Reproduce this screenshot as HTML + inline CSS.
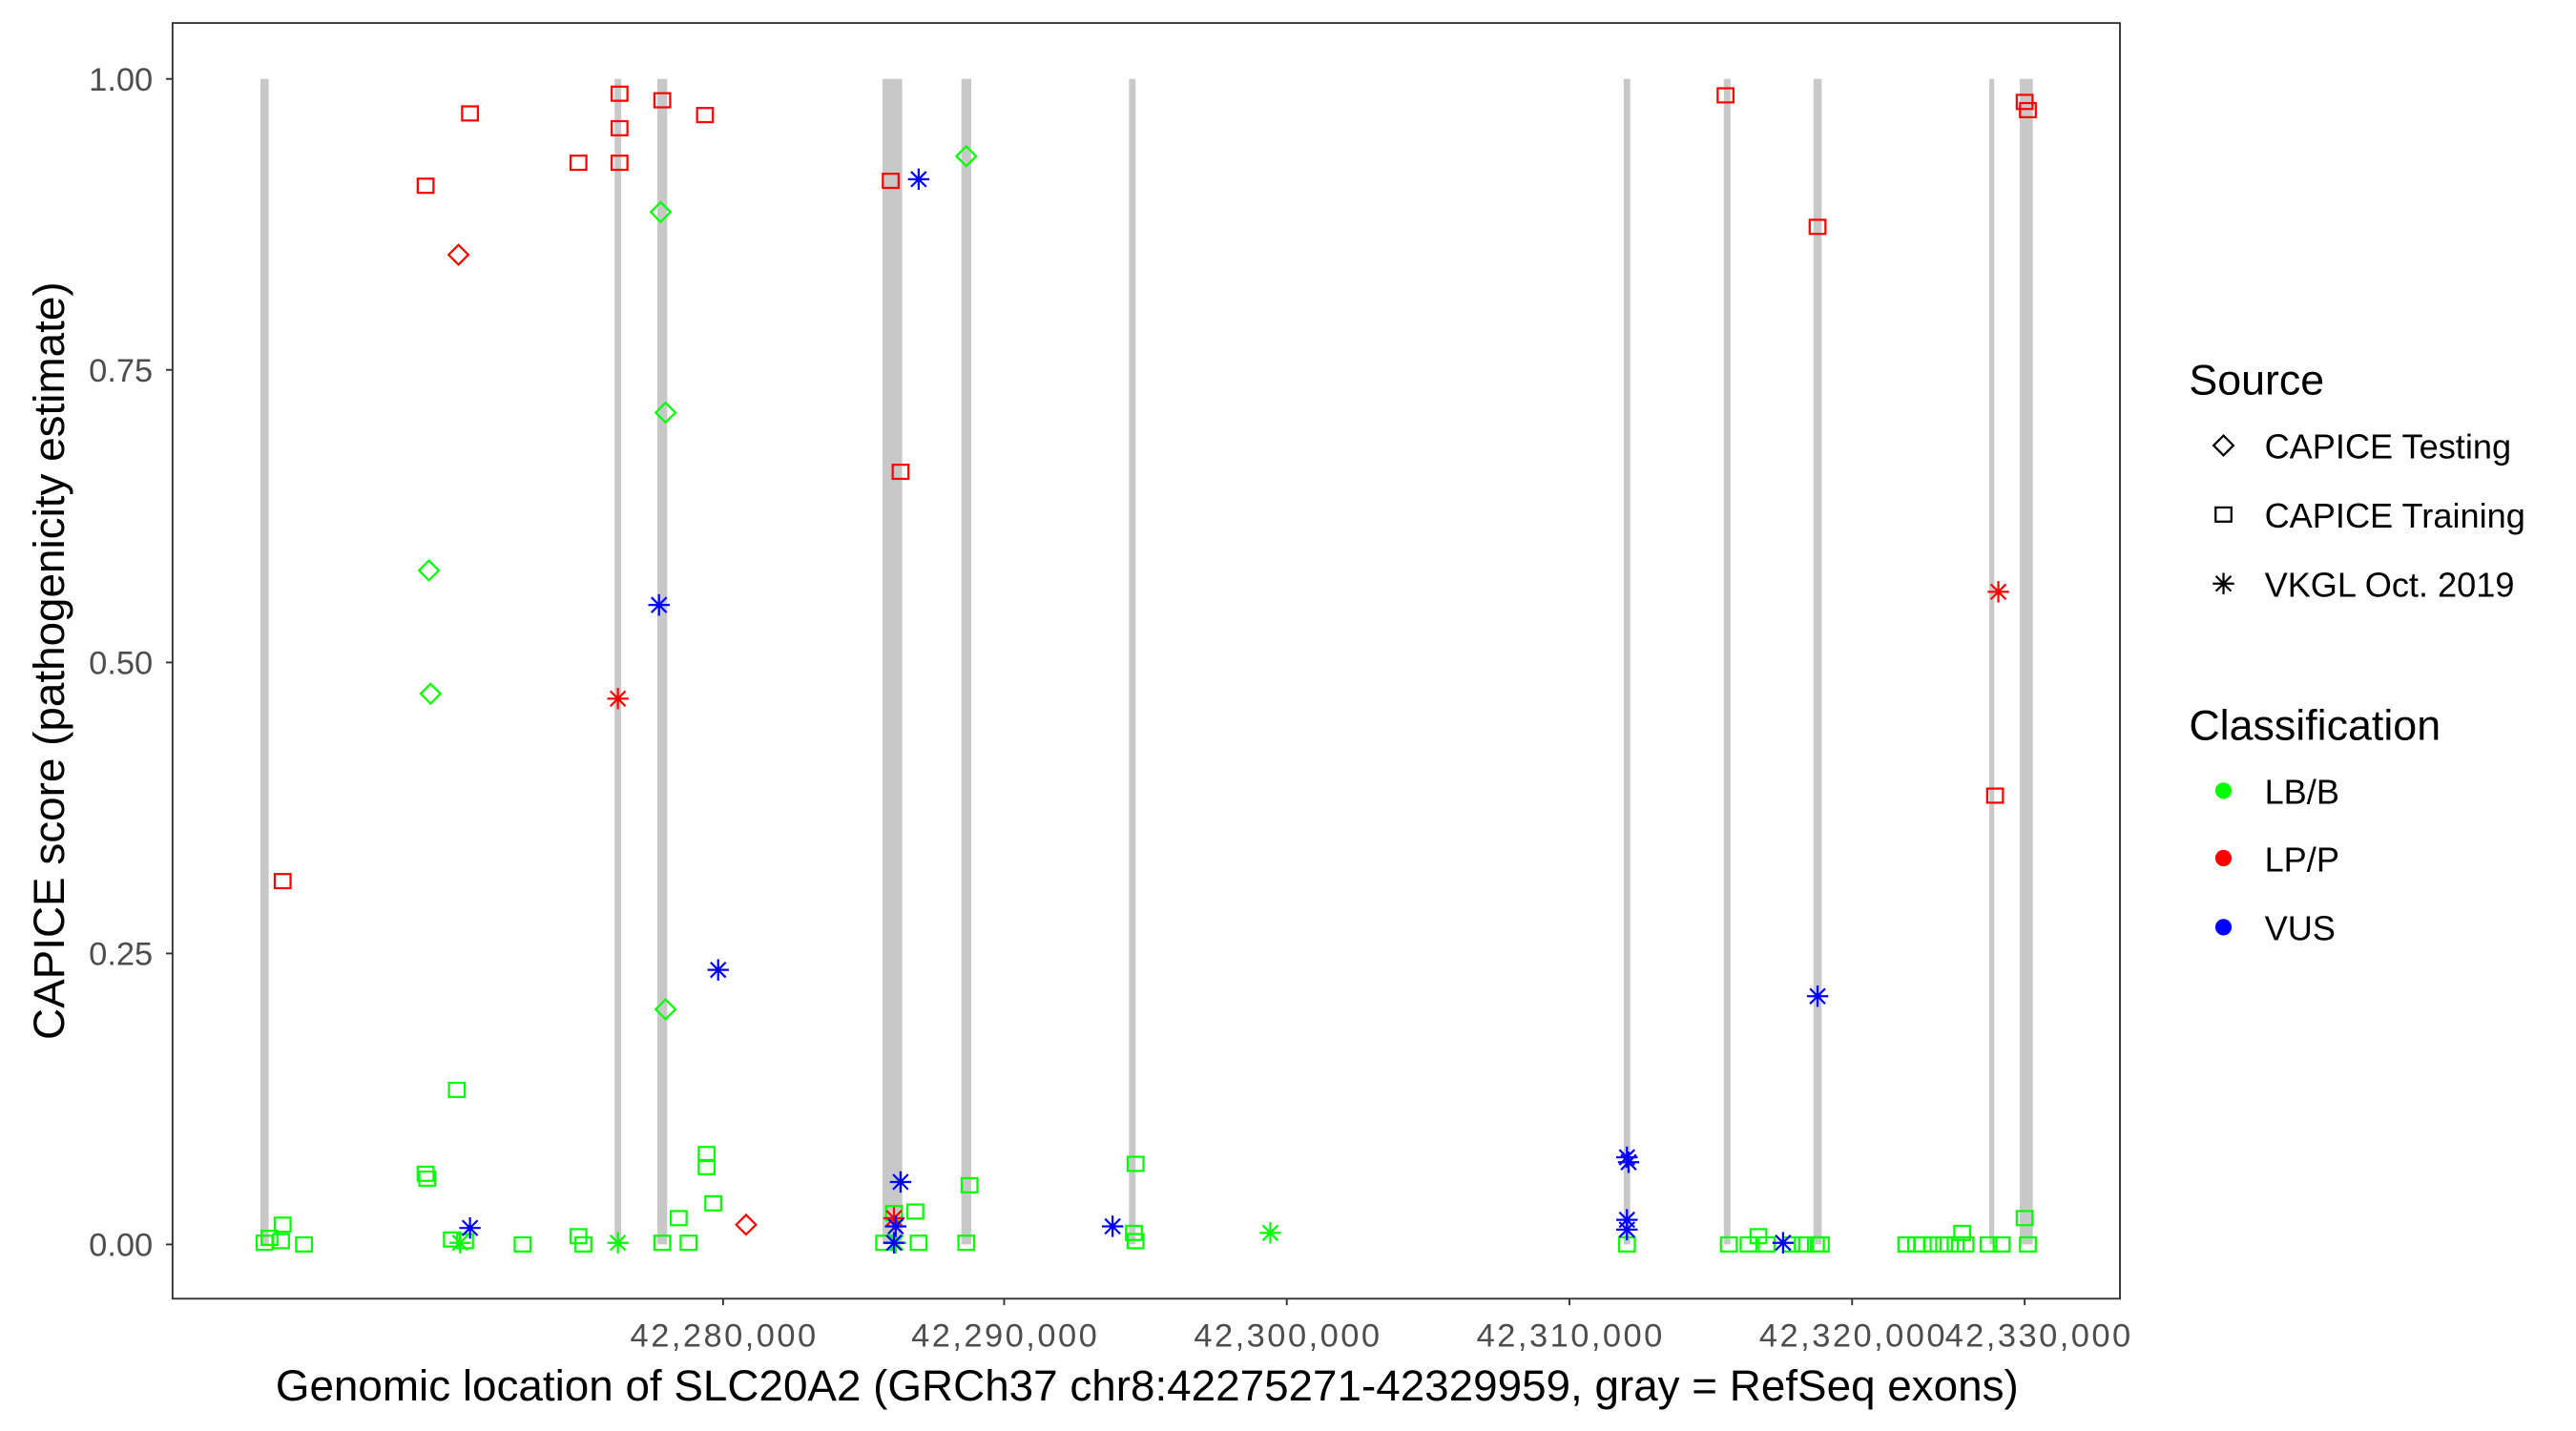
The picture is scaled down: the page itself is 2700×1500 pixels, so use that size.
<!DOCTYPE html>
<html><head><meta charset="utf-8"><style>html,body{margin:0;padding:0;background:#fff}svg{display:block}text{font-family:"Liberation Sans",Arial,sans-serif}</style></head>
<body>
<svg width="2700" height="1500" viewBox="0 0 1567.5 870.5" preserveAspectRatio="none" xmlns="http://www.w3.org/2000/svg">
<defs>
<g id="sq"><rect x="-4.8" y="-4.3" width="9.6" height="8.6" fill="none" stroke-width="1.3"/></g>
<g id="di"><path d="M-6,0 L0,-6 L6,0 L0,6 Z" fill="none" stroke-width="1.3"/></g>
<g id="as"><path d="M-6.5,0 H6.5 M0,-6.5 V6.5 M-4.6,-4.6 L4.6,4.6 M-4.6,4.6 L4.6,-4.6" fill="none" stroke-width="1.3"/></g>
</defs>
<rect x="105" y="14" width="1185" height="776" fill="#fff" stroke="#333" stroke-width="1.1"/>
<g fill="#c8c8c8">
<rect x="158.5" y="48" width="5" height="709"/>
<rect x="374" y="48" width="4" height="709"/>
<rect x="400" y="48" width="6" height="709"/>
<rect x="537" y="48" width="12" height="709"/>
<rect x="585" y="48" width="6" height="709"/>
<rect x="687" y="48" width="4" height="709"/>
<rect x="988" y="48" width="4" height="709"/>
<rect x="1049" y="48" width="4" height="709"/>
<rect x="1103.5" y="48" width="5" height="709"/>
<rect x="1210.5" y="48" width="3" height="709"/>
<rect x="1229" y="48" width="8" height="709"/>
</g>
<g stroke="#00ff00">
<use href="#sq" x="278" y="663"/><use href="#sq" x="259" y="714"/><use href="#sq" x="260" y="717"/><use href="#sq" x="430" y="702"/><use href="#sq" x="430" y="710"/><use href="#sq" x="434" y="732"/><use href="#sq" x="413" y="741"/><use href="#sq" x="172" y="745"/><use href="#sq" x="171" y="755"/><use href="#sq" x="185" y="757"/><use href="#sq" x="161" y="756"/><use href="#sq" x="164" y="753"/><use href="#sq" x="275" y="754"/><use href="#sq" x="283" y="755"/><use href="#sq" x="318" y="757"/><use href="#sq" x="352" y="752"/><use href="#sq" x="355" y="757"/><use href="#sq" x="403" y="756"/><use href="#sq" x="419" y="756"/><use href="#sq" x="557" y="737"/><use href="#sq" x="544" y="738"/><use href="#sq" x="559" y="756"/><use href="#sq" x="538" y="756"/><use href="#sq" x="588" y="756"/><use href="#sq" x="590" y="721"/><use href="#sq" x="691" y="708"/><use href="#sq" x="690" y="750"/><use href="#sq" x="691" y="755"/><use href="#sq" x="990" y="757"/><use href="#sq" x="1052" y="757"/><use href="#sq" x="1064" y="757"/><use href="#sq" x="1070" y="752"/><use href="#sq" x="1075" y="757"/><use href="#sq" x="1090" y="757"/><use href="#sq" x="1097" y="757"/><use href="#sq" x="1105" y="757"/><use href="#sq" x="1108" y="757"/><use href="#sq" x="1160" y="757"/><use href="#sq" x="1166" y="757"/><use href="#sq" x="1170" y="757"/><use href="#sq" x="1176" y="757"/><use href="#sq" x="1183" y="757"/><use href="#sq" x="1190" y="757"/><use href="#sq" x="1194" y="750"/><use href="#sq" x="1196" y="757"/><use href="#sq" x="1210" y="757"/><use href="#sq" x="1218" y="757"/><use href="#sq" x="1232" y="741"/><use href="#sq" x="1234" y="757"/>
<use href="#di" x="261" y="347"/><use href="#di" x="262" y="422"/><use href="#di" x="402" y="129"/><use href="#di" x="405" y="251"/><use href="#di" x="405" y="614"/><use href="#di" x="588" y="95"/>
<use href="#as" x="280" y="756"/><use href="#as" x="376" y="756"/><use href="#as" x="773" y="750"/><use href="#as" x="545" y="756"/>
</g>
<g stroke="#ff0000">
<use href="#sq" x="259" y="113"/><use href="#sq" x="286" y="69"/><use href="#sq" x="352" y="99"/><use href="#sq" x="377" y="57"/><use href="#sq" x="377" y="78"/><use href="#sq" x="377" y="99"/><use href="#sq" x="403" y="61"/><use href="#sq" x="429" y="70"/><use href="#sq" x="172" y="536"/><use href="#sq" x="542" y="110"/><use href="#sq" x="548" y="287"/><use href="#sq" x="1050" y="58"/><use href="#sq" x="1106" y="138"/><use href="#sq" x="1214" y="484"/><use href="#sq" x="1232" y="62"/><use href="#sq" x="1234" y="67"/>
<use href="#di" x="279" y="155"/><use href="#di" x="454" y="745"/>
<use href="#as" x="376" y="425"/><use href="#as" x="1216" y="360"/><use href="#as" x="544" y="741"/>
</g>
<g stroke="#0000ff">
<use href="#as" x="286" y="747"/><use href="#as" x="401" y="368"/><use href="#as" x="437" y="590"/><use href="#as" x="559" y="109"/><use href="#as" x="548" y="719"/><use href="#as" x="545" y="746"/><use href="#as" x="544" y="756"/><use href="#as" x="677" y="746"/><use href="#as" x="990" y="704"/><use href="#as" x="991" y="707"/><use href="#as" x="990" y="742"/><use href="#as" x="990" y="748"/><use href="#as" x="1106" y="606"/><use href="#as" x="1085" y="756"/>
</g>
<g stroke="#333" stroke-width="1.1">
<line x1="101" y1="48" x2="105" y2="48"/><line x1="101" y1="225" x2="105" y2="225"/><line x1="101" y1="403" x2="105" y2="403"/><line x1="101" y1="580" x2="105" y2="580"/><line x1="101" y1="757" x2="105" y2="757"/>
<line x1="440" y1="790" x2="440" y2="794"/><line x1="611" y1="790" x2="611" y2="794"/><line x1="783" y1="790" x2="783" y2="794"/><line x1="955" y1="790" x2="955" y2="794"/><line x1="1127" y1="790" x2="1127" y2="794"/><line x1="1232" y1="790" x2="1232" y2="794"/>
</g>
<g fill="#4d4d4d" font-size="20" text-anchor="end">
<text x="93" y="55">1.00</text><text x="93" y="232">0.75</text><text x="93" y="410">0.50</text><text x="93" y="587">0.25</text><text x="93" y="764">0.00</text>
</g>
<g fill="#4d4d4d" font-size="20" text-anchor="middle" lengthAdjust="spacingAndGlyphs">
<text x="440" y="819" textLength="113">42,280,000</text><text x="611" y="819" textLength="113">42,290,000</text><text x="783" y="819" textLength="113">42,300,000</text><text x="955" y="819" textLength="113">42,310,000</text><text x="1127" y="819" textLength="113">42,320,000</text><text x="1240" y="819" textLength="113">42,330,000</text>
</g>
<text x="698" y="852" font-size="26.6" text-anchor="middle" fill="#000">Genomic location of SLC20A2 (GRCh37 chr8:42275271-42329959, gray = RefSeq exons)</text>
<text transform="translate(39,402) rotate(-90)" font-size="26.6" text-anchor="middle" fill="#000">CAPICE score (pathogenicity estimate)</text>
<text x="1332" y="240" font-size="26" fill="#000">Source</text>
<g stroke="#000"><use href="#di" x="1353" y="271"/><use href="#sq" x="1353" y="313"/><use href="#as" x="1353" y="355"/></g>
<g font-size="21" fill="#000">
<text x="1378" y="279">CAPICE Testing</text><text x="1378" y="321">CAPICE Training</text><text x="1378" y="363">VKGL Oct. 2019</text>
</g>
<text x="1332" y="450" font-size="26" fill="#000">Classification</text>
<circle cx="1353" cy="481" r="5" fill="#00ff00"/><circle cx="1353" cy="522" r="5" fill="#ff0000"/><circle cx="1353" cy="564" r="5" fill="#0000ff"/>
<g font-size="21" fill="#000">
<text x="1378" y="489">LB/B</text><text x="1378" y="530">LP/P</text><text x="1378" y="572">VUS</text>
</g>
</svg>
</body></html>
